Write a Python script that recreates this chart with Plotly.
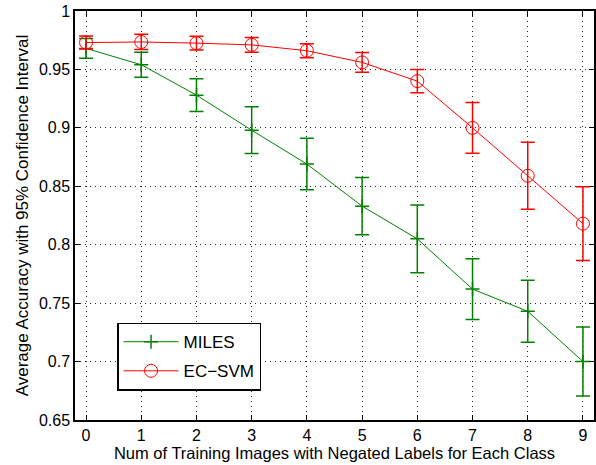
import plotly.graph_objects as go

x_vals = [0, 1, 2, 3, 4, 5, 6, 7, 8, 9]
miles_mean = [0.968, 0.954, 0.928, 0.898, 0.869, 0.833, 0.805, 0.762, 0.743, 0.700]
miles_err = [0.0085, 0.0107, 0.014, 0.020, 0.022, 0.0245, 0.029, 0.026, 0.0265, 0.0295]
ecsvm_mean = [0.973, 0.9735, 0.9725, 0.971, 0.966, 0.956, 0.940, 0.900, 0.859, 0.818]
ecsvm_err = [0.0055, 0.0065, 0.0058, 0.0063, 0.006, 0.0084, 0.010, 0.0218, 0.0287, 0.0315]
x_ticks = [0, 1, 2, 3, 4, 5, 6, 7, 8, 9]
y_ticks = [0.65, 0.7, 0.75, 0.8, 0.85, 0.9, 0.95, 1]
y_ticklabels = ["0.65", "0.7", "0.75", "0.8", "0.85", "0.9", "0.95", "1"]

GREEN = "#008000"
RED = "#ff0000"
FONT = "Liberation Sans, Arial, sans-serif"

fig = go.Figure()
fig.add_trace(go.Scatter(
    x=x_vals, y=miles_mean, name="MILES", mode="lines+markers", legendgroup="a",
    line=dict(color=GREEN, width=1),
    marker=dict(symbol="cross-thin", size=10, line=dict(color=GREEN, width=1.5)),
    error_y=dict(type="data", array=miles_err, color=GREEN, thickness=1.5, width=7),
))
fig.add_trace(go.Scatter(
    x=x_vals, y=ecsvm_mean, name="EC\u2212SVM", mode="lines+markers", legendgroup="b",
    line=dict(color=RED, width=1),
    marker=dict(symbol="circle-open", size=13, color=RED, line=dict(color=RED, width=1)),
    error_y=dict(type="data", array=ecsvm_err, color=RED, thickness=1.5, width=7),
))

axis_common = dict(
    showline=True, linecolor="black", linewidth=1.5, mirror="allticks",
    ticks="inside", ticklen=5, tickcolor="black", tickwidth=1,
    showgrid=True, gridcolor="#222", gridwidth=1, griddash="1px,4px",
    zeroline=False,
    tickfont=dict(family=FONT, size=16, color="black"),
)

fig.update_xaxes(
    range=[-0.2, 9.2], tickvals=x_ticks,
    title=dict(text="Num of Training Images with Negated Labels for Each Class",
               font=dict(family=FONT, size=16.5, color="black"), standoff=3),
    **axis_common,
)
fig.update_yaxes(
    range=[0.65, 1.0], tickvals=y_ticks, ticktext=y_ticklabels,
    title=dict(text="Average Accuracy with 95% Confidence Interval",
               font=dict(family=FONT, size=17, color="black"), standoff=6),
    **axis_common,
)

fig.update_layout(
    width=596, height=465,
    margin=dict(l=75, r=2, t=11, b=45, autoexpand=False),
    paper_bgcolor="white", plot_bgcolor="white",
    font=dict(family=FONT, size=16, color="black"),
    legend=dict(
        x=0.081, y=0.238, xanchor="left", yanchor="top",
        bgcolor="white", bordercolor="black", borderwidth=1.5,
        font=dict(family=FONT, size=17, color="black"),
        itemwidth=55, tracegroupgap=4,
    ),
)

fig.write_html("out.html", config={"displayModeBar": False},
               post_script="document.body.style.margin='0px';")
